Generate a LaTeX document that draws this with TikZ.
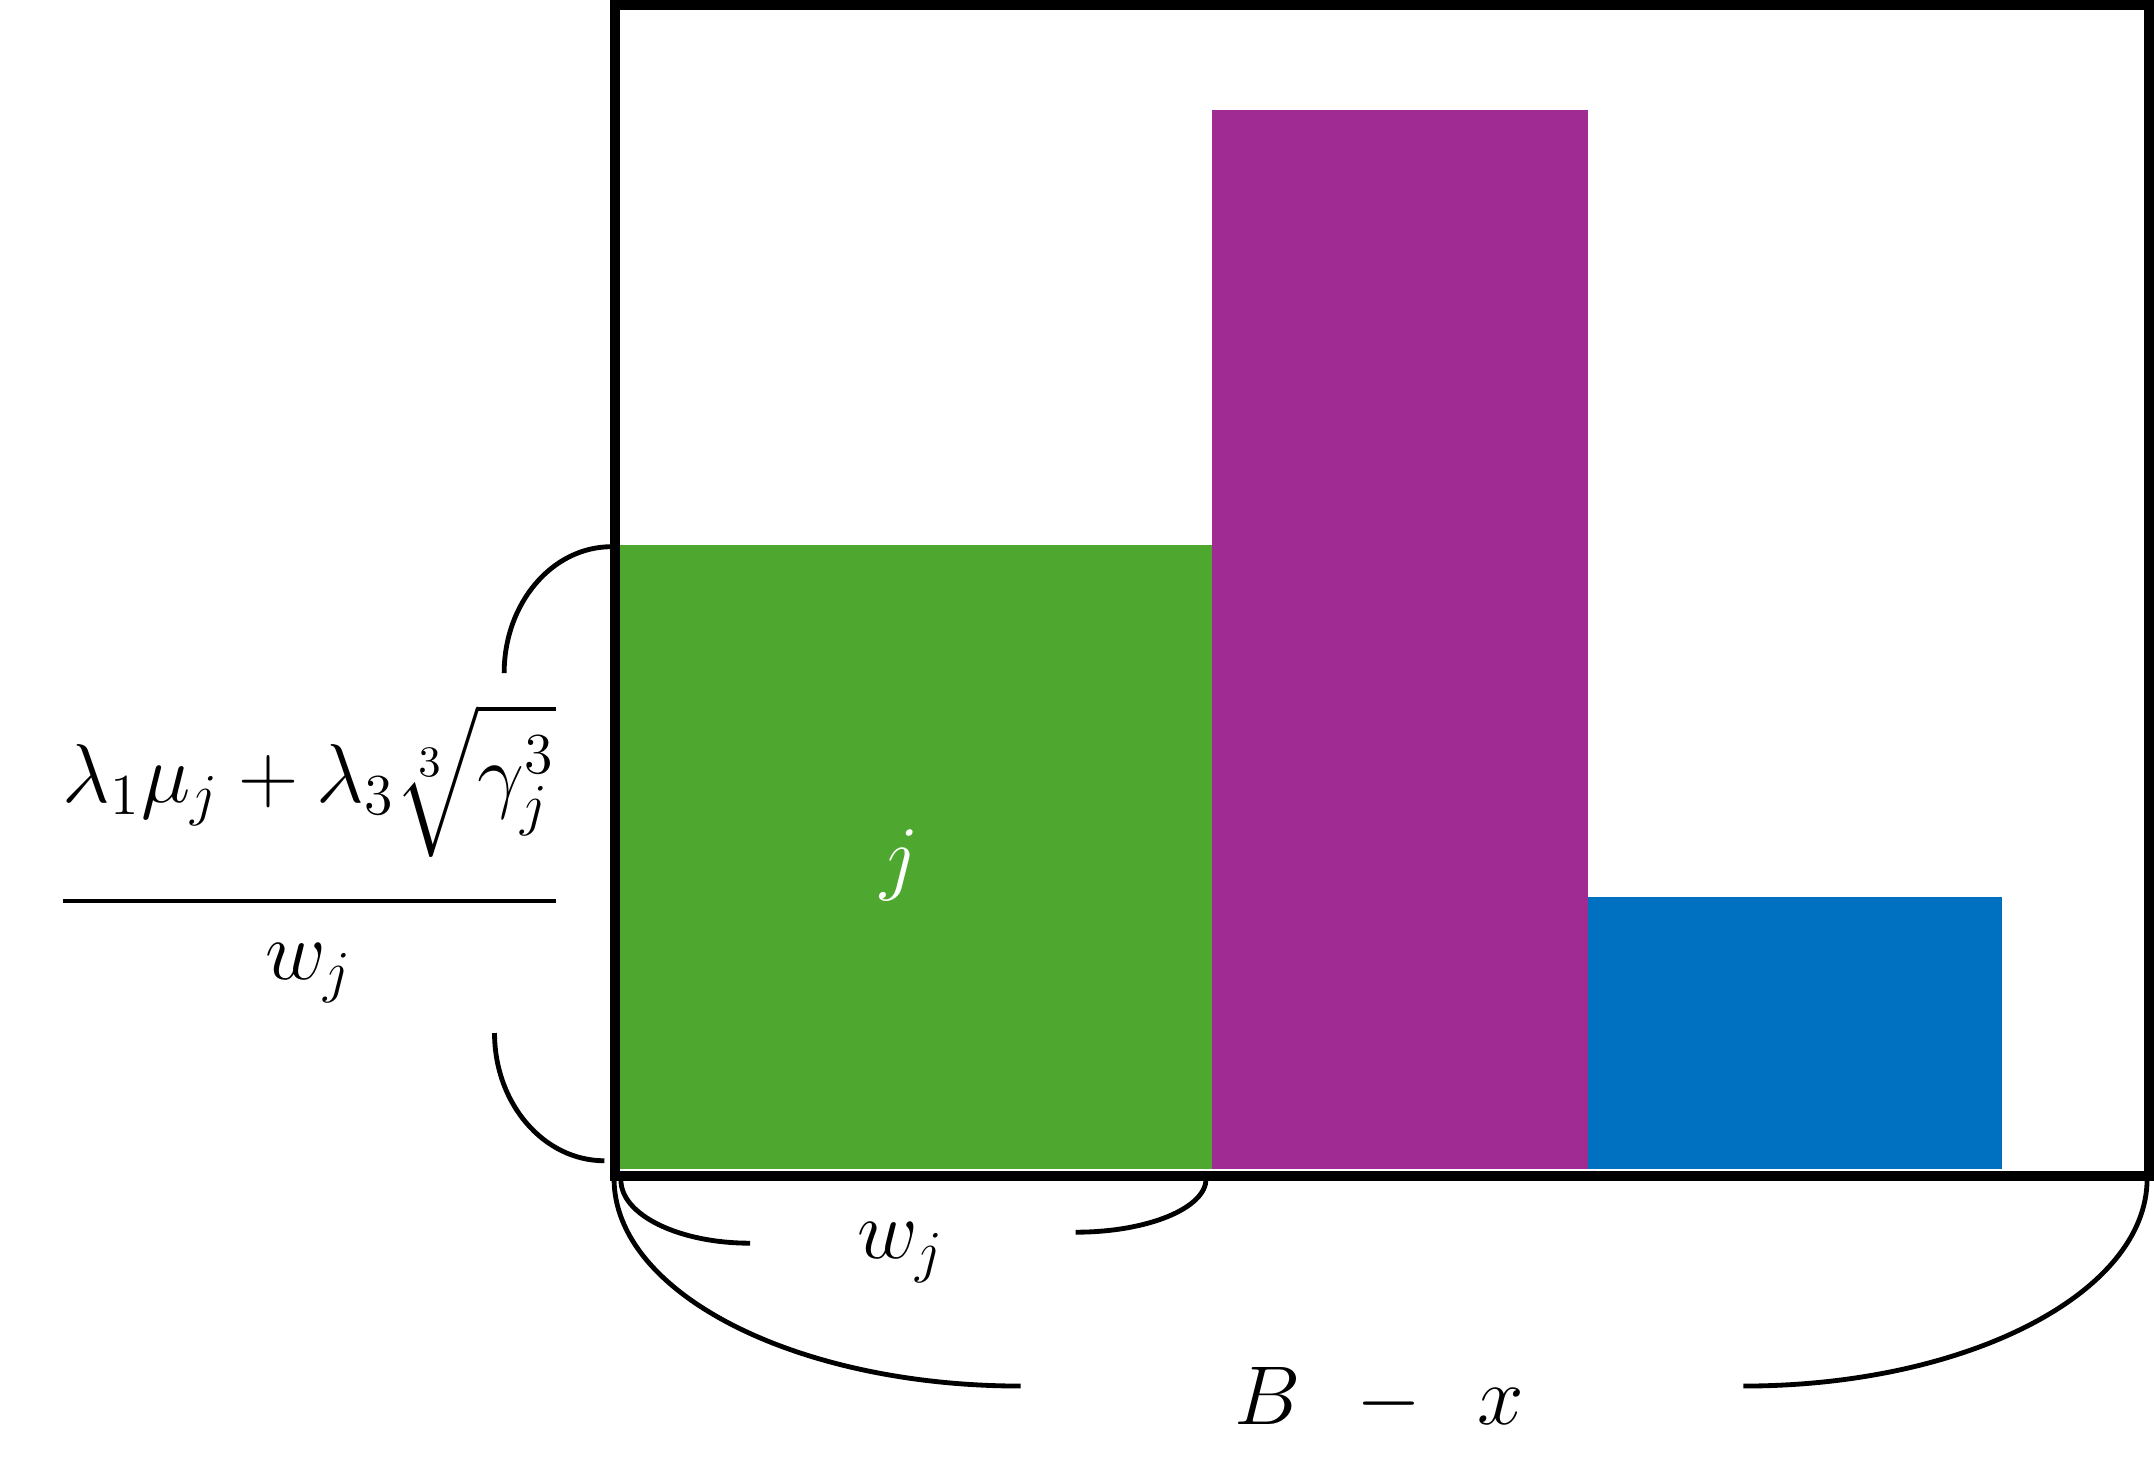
\documentclass[tikz,border=0pt]{standalone}
\usepackage{amsmath}
\definecolor{bargreen}{HTML}{4EA72E}
\definecolor{barpurple}{HTML}{A02B93}
\definecolor{barblue}{HTML}{0070C0}
\begin{document}
\begin{tikzpicture}[x=0.01cm,y=-0.01cm,
  frame/.style={line width=0.07cm},
  bracearc/.style={line width=1pt},
  lab/.style={inner sep=0pt, font=\fontsize{18}{22}\selectfont}]
\useasboundingbox (0,0) rectangle (1568,1077);
% bars
\fill[bargreen] (451,397) rectangle (882,851);
\fill[barpurple] (882,80) rectangle (1156,851);
\fill[barblue] (1156,653) rectangle (1457,851);
% frame
\draw[frame] (447.6,3.6) rectangle (1564.5,856);
% left brace
\draw[bracearc] (445,398) .. controls (401.9,398) and (367,439.2) .. (367,490);
\draw[bracearc] (360,752) .. controls (360,803.4) and (395.8,845) .. (440,845);
% small bottom brace
\draw[bracearc] (452,859) .. controls (452,884.4) and (494.1,905) .. (546,905);
\draw[bracearc] (783,897) .. controls (835.5,897) and (878,879.5) .. (878,858);
% big bottom brace
\draw[bracearc] (447,858) .. controls (447,941.4) and (579.5,1009) .. (743,1009);
\draw[bracearc] (1269,1009) .. controls (1431.4,1009) and (1563,941.4) .. (1563,858);
% labels
\node[lab, text=white] (jlab) at (655,630) {$j$};
\node[lab] (wlab) at (656,912) {$w_j$};
\node[lab, anchor=base] (frac) at (225,671)
  {$\displaystyle\frac{\lambda_1\mu_j+\lambda_3\sqrt[3]{\gamma_j^3}\rule[-18pt]{0pt}{0pt}}{w_j}$};
\node[lab, anchor=base] (bx) at (1004,1037) {$B\;\,-\;\,x$};
\end{tikzpicture}
\end{document}
